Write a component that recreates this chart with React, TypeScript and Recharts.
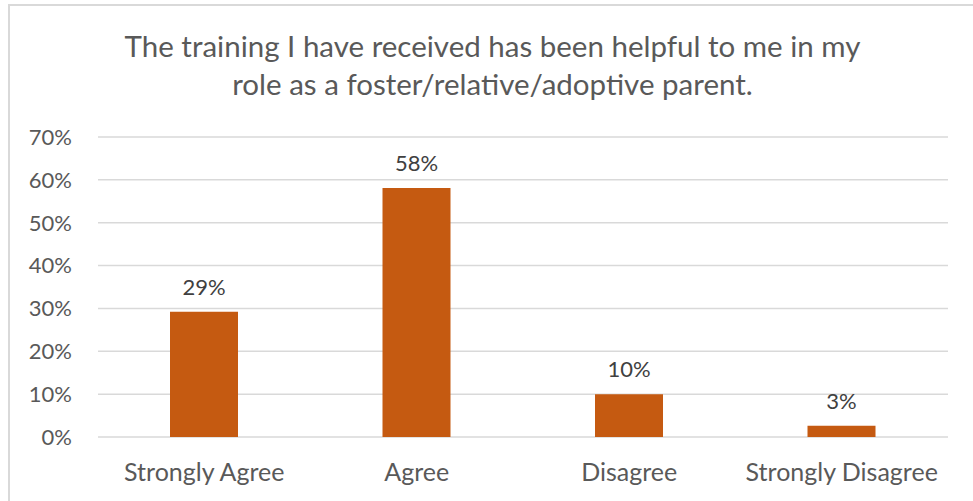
import React from 'react';
import { BarChart, Bar, XAxis, YAxis, CartesianGrid, LabelList } from 'recharts';

// categorias e valores (em %)
const categorias = ['Strongly Agree', 'Agree', 'Disagree', 'Strongly Disagree'];
const valores = [29.2, 58.1, 10, 2.6];
const ticksY = [0, 10, 20, 30, 40, 50, 60, 70];
const titulo = [
  'The training I have received has been helpful to me in my',
  'role as a foster/relative/adoptive parent.',
];

const dados = categorias.map((cat, i) => ({ cat, valor: valores[i] }));

const FONTE = 'Lato, "Open Sans", sans-serif';

export default function App() {
  return (
    <div style={{ position: 'absolute', left: 0, top: 0, width: 973, height: 501, background: '#fff', overflow: 'hidden', fontFamily: FONTE }}>
      {/* borda do gráfico (só topo e esquerda aparecem no recorte) */}
      <div style={{ position: 'absolute', left: 8, top: 4, width: 980, height: 520, borderTop: '2px solid #d9d9d9', borderLeft: '2px solid #d9d9d9' }} />

      <div style={{ position: 'absolute', left: 8, top: 27, width: 969, textAlign: 'center', color: '#595959', fontSize: 29.5, lineHeight: '38px' }}>
        {titulo.map((l) => (
          <div key={l}>{l}</div>
        ))}
      </div>

      <div style={{ position: 'absolute', left: 0, top: 0 }}>
        <BarChart width={973} height={501} data={dados} margin={{ top: 137, right: 25, left: 8, bottom: 0 }}>
          <CartesianGrid vertical={false} stroke="#d9d9d9" strokeWidth={1.5} />
          <XAxis
            dataKey="cat"
            height={64}
            axisLine={false}
            tickLine={false}
            tickSize={0}
            tickMargin={26}
            interval={0}
            tick={{ fill: '#595959', fontSize: 25, fontFamily: FONTE }}
          />
          <YAxis
            width={90}
            domain={[0, 70]}
            ticks={ticksY}
            axisLine={false}
            tickLine={false}
            tickSize={0}
            tickMargin={26}
            tickFormatter={(v: number) => `${v}%`}
            tick={{ fill: '#595959', fontSize: 22, fontFamily: FONTE }}
          />
          <Bar dataKey="valor" fill="#c55a11" barSize={68} isAnimationActive={false}>
            <LabelList
              dataKey="valor"
              position="top"
              offset={17}
              formatter={(v: number) => `${Math.round(v)}%`}
              style={{ fill: '#404040', fontSize: 22, fontFamily: FONTE }}
            />
          </Bar>
        </BarChart>
      </div>
    </div>
  );
}
